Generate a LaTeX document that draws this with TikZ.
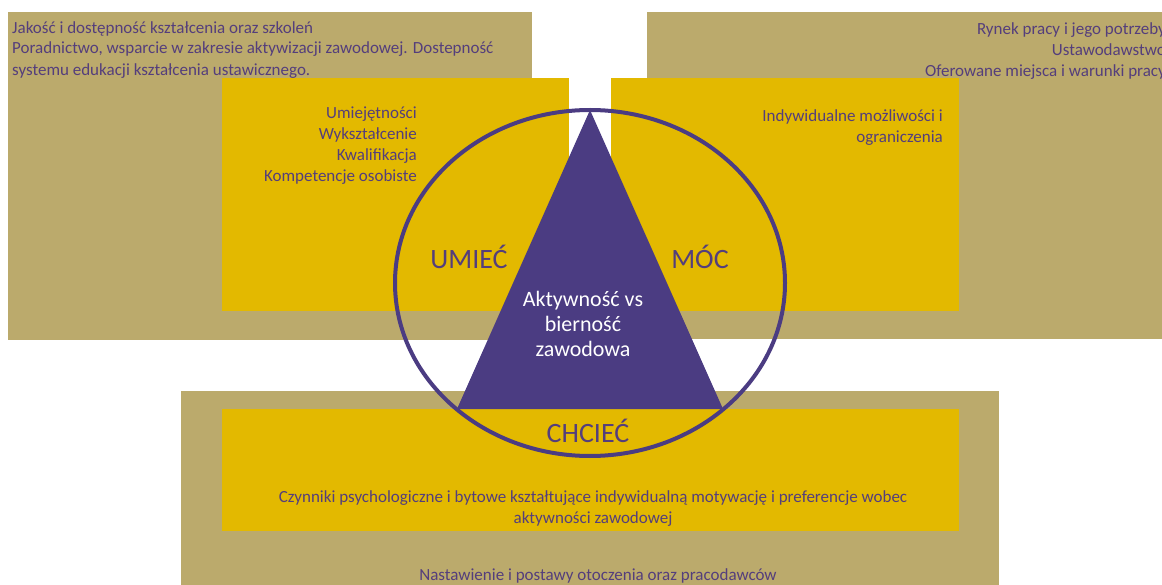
\documentclass[tikz,border=0pt]{standalone}
\usepackage{fontspec}
\setmainfont{Carlito}
\definecolor{khaki}{RGB}{187,170,108}
\definecolor{zolty}{RGB}{227,185,0}
\definecolor{fiolet}{RGB}{75,60,130}
\definecolor{tekst}{RGB}{84,62,124}

\begin{document}
\begin{tikzpicture}[x=1pt, y=-1pt,
    opis/.style={inner sep=0pt, text=tekst, font=\fontsize{17}{21}\selectfont},
    haslo/.style={inner sep=0pt, text=tekst, font=\fontsize{28}{32}\selectfont, anchor=base}]
    % Ramka obrazka
    \useasboundingbox (0,0) rectangle (1162,585);
    \clip (0,0) rectangle (1162,585);

    % ==================== TŁA ====================
    % 1. Pola zewnętrzne (khaki)
    \fill[khaki] (8,12) rectangle (532,340);
    \fill[khaki] (647,12) rectangle (1170,339);
    \fill[khaki] (181,391) rectangle (999,590);

    % 2. Pola wewnętrzne (żółte)
    \fill[zolty] (222,78) rectangle (569,311);
    \fill[zolty] (611,78) rectangle (959,311);
    \fill[zolty] (222,409) rectangle (959,531);

    % ==================== TRÓJKĄT I ELIPSA ====================
    \fill[fiolet] (590,110) -- (457,409) -- (723,409) -- cycle;
    \draw[fiolet, line width=4pt] (590,283) ellipse [x radius=195, y radius=173];

    % ==================== NAPISY ====================
    % 3. Opisy w polach khaki
    \node[opis, anchor=north west, align=left] (jakosc) at (12,21)
        {Jakość i dostępność kształcenia oraz szkoleń\\
         Poradnictwo, wsparcie w zakresie aktywizacji zawodowej. Dostepność\\
         systemu edukacji kształcenia ustawicznego.};
    \node[opis, anchor=north east, align=right] (rynek) at (1166,22)
        {Rynek pracy i jego potrzeby\\Ustawodawstwo\\Oferowane miejsca i warunki pracy};
    \node[opis, anchor=north] (nastawienie) at (598,568)
        {Nastawienie i postawy otoczenia oraz pracodawców};

    % 4. Opisy w polach żółtych
    \node[opis, anchor=north east, align=right] (umiejetnosci) at (417,107)
        {Umiejętności\\Wykształcenie\\Kwalifikacja\\Kompetencje osobiste};
    \node[opis, anchor=north east, align=right] (mozliwosci) at (943,109)
        {Indywidualne możliwości i\\ograniczenia};
    \node[opis, anchor=north, align=center] (czynniki) at (593,490)
        {Czynniki psychologiczne i bytowe kształtujące indywidualną motywację i preferencje wobec\\
         aktywności zawodowej};

    % 5. Hasła przy bokach trójkąta
    \node[haslo] (umiec) at (469,269) {UMIEĆ};
    \node[haslo] (moc) at (700,269) {MÓC};
    \node[haslo] (chciec) at (588,442) {CHCIEĆ};

    % 6. Środek trójkąta
    \node[opis, text=white, font=\fontsize{22}{25}\selectfont, align=center, anchor=north] (aktywnosc) at (583,291)
        {Aktywność vs\\bierność\\zawodowa};
\end{tikzpicture}
\end{document}
